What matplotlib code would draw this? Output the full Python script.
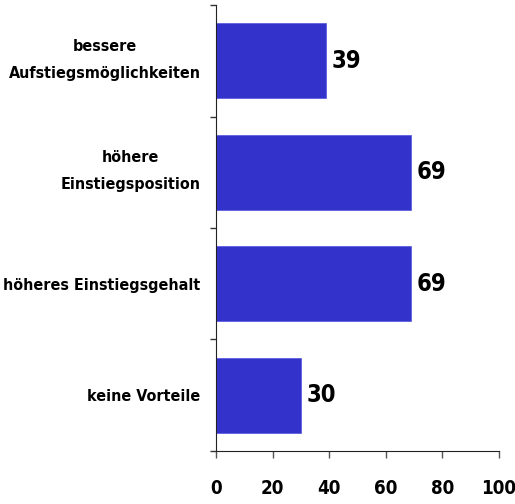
import matplotlib
matplotlib.use('Agg')
import matplotlib.pyplot as plt
from matplotlib.transforms import ScaledTranslation

categories = ['bessere\nAufstiegsmöglichkeiten', 'höhere\nEinstiegsposition',
              'höheres Einstiegsgehalt', 'keine Vorteile']
values = [39, 69, 69, 30]
xticks = [0, 20, 40, 60, 80, 100]

plt.rcParams['font.family'] = ['DejaVu Sans']
plt.rcParams['font.stretch'] = 'condensed'
plt.rcParams['font.weight'] = 'bold'

fig = plt.figure(figsize=(5.15, 5.04), dpi=100)
ax = fig.add_axes([0.4194, 0.1052, 0.969 - 0.4194, 0.990 - 0.1052])

pos = list(range(len(categories)))
ax.barh(pos, values, height=0.67, color='#3333CC', edgecolor='#5555DD', linewidth=0.5)

for p, v in zip(pos, values):
    ax.text(v + 2, p, str(v), va='center', ha='left', fontsize=17, fontweight='bold')

ax.set_xlim(0, 100)
ax.set_ylim(len(categories) - 0.5, -0.5)

ax.set_xticks(xticks)
ax.set_xticklabels([str(t) for t in xticks], fontsize=13.5, fontweight='bold')
ax.tick_params(axis='x', length=5, width=1, color='#555555', pad=15)

# boundaries as major ticks, labels on minor ticks
ax.set_yticks([i - 0.5 for i in range(len(categories) + 1)])
ax.set_yticklabels([])
ax.tick_params(axis='y', which='major', length=4.5, width=1, color='#333333')
ax.set_yticks(pos, minor=True)
ax.set_yticklabels(categories, minor=True, fontsize=11.5, fontweight='bold')
ax.tick_params(axis='y', which='minor', length=0, pad=11)
shift_up = ScaledTranslation(0, 6 / 72, fig.dpi_scale_trans)
for lab in ax.get_yticklabels(minor=True):
    lab.set_multialignment('center')
    lab.set_linespacing(2.0)
    if '\n' in lab.get_text():
        lab.set_transform(lab.get_transform() + shift_up)

ax.spines['top'].set_visible(False)
ax.spines['right'].set_visible(False)
ax.spines['left'].set_color('#222222')
ax.spines['bottom'].set_color('#222222')

plt.savefig('out.png', dpi=100)
